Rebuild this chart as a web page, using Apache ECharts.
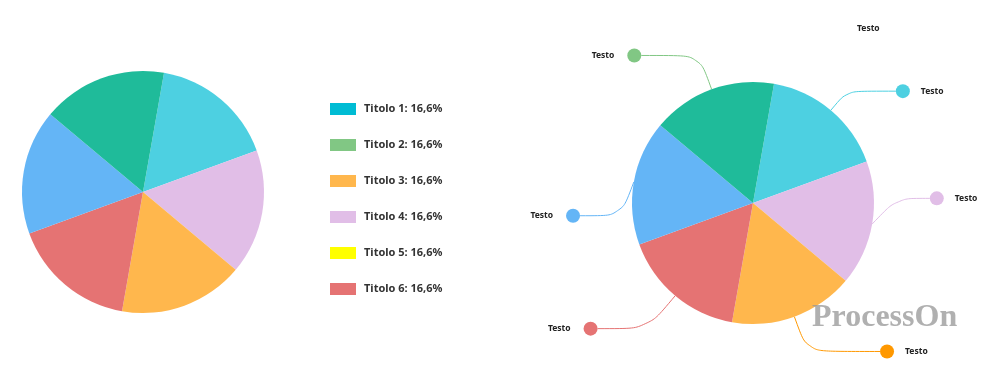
<!DOCTYPE html>
<html>
<head>
<meta charset="utf-8">
<script src="https://cdn.jsdelivr.net/npm/echarts@6/dist/echarts.min.js"></script>
<style>html,body{margin:0;padding:0;background:#fff}#c{width:1000px;height:380px}</style>
</head>
<body>
<div id="c"></div>
<script>
// slice names in clockwise order starting at the top
const sliceNames = ['Titolo 1', 'Titolo 4', 'Titolo 3', 'Titolo 6', 'Titolo 5', 'Titolo 2'];
const sliceValues = [16.6, 16.6, 16.6, 16.6, 16.6, 16.6];
const sliceColors = ['#4dd0e1', '#e1bee7', '#ffb74d', '#e57373', '#64b5f6', '#1fbb9a'];
const legendNames = ['Titolo 1', 'Titolo 2', 'Titolo 3', 'Titolo 4', 'Titolo 5', 'Titolo 6'];
const legendColors = ['#00bcd4', '#81c784', '#ffb74d', '#e1bee7', '#ffff00', '#e57373'];
const labelTexts = ['Testo', 'Testo', 'Testo', 'Testo', 'Testo', 'Testo'];
const dotColors = ['#4dd0e1', '#e1bee7', '#ff9800', '#e57373', '#64b5f6', '#81c784'];
const labelSides = ['right', 'right', 'right', 'left', 'left', 'left'];
const lineLen1 = [25, 25, 37, 43, 13, 36];
const lineLen2 = [49, 33, 73, 50, 41, 58];
const labelShiftY = [0, -30, 0, 0, 36, 0];

const total = sliceValues.reduce((a, b) => a + b, 0);
function pctText(name) {
  const i = sliceNames.indexOf(name);
  const p = Math.floor(sliceValues[i] / total * 1000) / 10;
  return name + ': ' + p.toFixed(1).replace('.', ',') + '%';
}

const chart = echarts.init(document.getElementById('c'), null, {renderer: 'canvas'});
const font = '"Noto Sans", "Open Sans", sans-serif';

const leftData = sliceNames.map((n, i) => ({name: n, value: sliceValues[i], itemStyle: {color: sliceColors[i]}}));
const rightData = sliceNames.map((n, i) => ({
  name: n,
  value: sliceValues[i],
  itemStyle: {color: sliceColors[i]},
  label: {
    formatter: labelSides[i] === 'right' ? '{dot|}{t|' + labelTexts[i] + '}' : '{t|' + labelTexts[i] + '}{dot|}',
    rich: {
      dot: {width: 14, height: 14, borderRadius: 7, backgroundColor: dotColors[i]},
      t: {fontSize: 8.5, fontWeight: 'bold', color: '#222', fontFamily: font,
          padding: labelSides[i] === 'right' ? [0, 0, 0, 11] : [0, 13, 0, 0]}
    }
  },
  labelLine: {length: lineLen1[i], length2: lineLen2[i], lineStyle: {color: dotColors[i], width: 1}}
}));

function shiftLabel(p) {
  const s = labelShiftY[p.dataIndex];
  if (!s || !p.labelLinePoints) return {};
  const pts = p.labelLinePoints.map((q, k) => k === 0 ? [q[0], q[1]] : [q[0], q[1] + s]);
  return {dy: s, labelLinePoints: pts};
}

chart.setOption({
  animation: false,
  title: {
    text: 'Testo', left: 857, top: 24, padding: 0,
    textStyle: {fontSize: 8.5, fontWeight: 'bold', color: '#222', fontFamily: font}
  },
  legend: {
    orient: 'vertical', left: 330, top: 103, padding: 0,
    itemWidth: 26, itemHeight: 12, itemGap: 24,
    icon: 'rect',
    selectedMode: false,
    data: legendNames.map((n, i) => ({name: n, itemStyle: {color: legendColors[i]}})),
    formatter: pctText,
    textStyle: {fontSize: 11, fontWeight: 'bold', color: '#333', fontFamily: font, padding: [0, 0, 0, 3]}
  },
  graphic: [{
    type: 'text', left: 812, top: 302, z: 100,
    style: {text: 'ProcessOn', fill: 'rgba(150,150,150,0.75)', font: 'bold 32px "Liberation Serif", serif'}
  }],
  series: [{
    type: 'pie',
    center: [143, 192],
    radius: 121,
    startAngle: 80,
    clockwise: true,
    label: {show: false},
    labelLine: {show: false},
    emphasis: {disabled: true},
    data: leftData
  }, {
    type: 'pie',
    center: [753, 203],
    radius: 121,
    startAngle: 80,
    clockwise: true,
    label: {show: true, position: 'outside', distanceToLabelLine: 0},
    labelLine: {show: true, smooth: 0.3},
    avoidLabelOverlap: false,
    emphasis: {disabled: true},
    labelLayout: shiftLabel,
    data: rightData
  }]
});
</script>
</body>
</html>
